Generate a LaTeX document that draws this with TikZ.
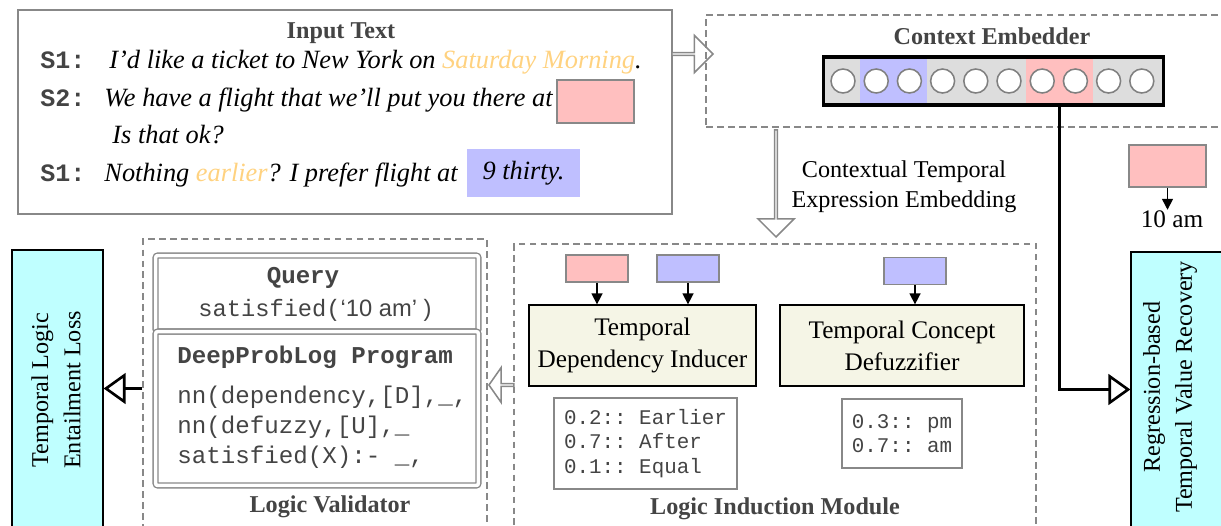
\documentclass[tikz,border=0pt]{standalone}
\usepackage{fontspec}
\setmainfont{Liberation Serif}
\setsansfont{Liberation Sans}
\setmonofont{Liberation Mono}
\usetikzlibrary{positioning, shapes.arrows, arrows.meta}

\definecolor{pinkq}{RGB}{255,191,191}
\definecolor{blueq}{RGB}{191,191,255}
\definecolor{orangew}{RGB}{255,210,128}
\definecolor{cyanbox}{RGB}{191,255,255}
\definecolor{beige}{RGB}{245,245,230}
\definecolor{embgray}{RGB}{221,221,221}
\definecolor{titlegray}{RGB}{68,68,68}
\definecolor{linegray}{RGB}{136,136,136}

\begin{document}
\begin{tikzpicture}[
      x=0.016cm, y=-0.016cm,
      frame/.style={rectangle, draw=linegray, line width=0.9pt, inner sep=0pt},
      dbox/.style={rectangle, draw=linegray, dash pattern=on 3pt off 2pt,
      line width=0.6pt, inner sep=0pt},
      ttl/.style={font=\fontsize{11}{13}\selectfont\bfseries, text=titlegray,
      inner sep=0pt},
      spk/.style={font=\fontsize{11.4}{13}\selectfont\ttfamily\bfseries,
      text=titlegray, anchor=base west, inner sep=0pt},
      utt/.style={font=\fontsize{12}{14}\selectfont\itshape, anchor=base west,
      inner sep=0pt},
      slot/.style={rectangle, draw=linegray, line width=0.7pt, inner sep=0pt,
      minimum width=0.992cm, minimum height=0.432cm},
      mod/.style={rectangle, draw, fill=beige, line width=0.6pt, align=center,
      font=\fontsize{11.5}{14.6}\selectfont, minimum height=1.296cm},
      prob/.style={rectangle, draw=linegray, line width=0.9pt, align=left,
      font=\fontsize{9.5}{11}\selectfont\ttfamily, text=titlegray},
      outbox/.style={rectangle, draw, fill=cyanbox, line width=0.6pt, inner sep=0pt},
      sidetxt/.style={rotate=90, align=center, font=\fontsize{11}{14.6}\selectfont},
      emb/.style={circle, draw=gray, fill=white, line width=0.7pt,
      minimum size=0.384cm, inner sep=0pt},
      hollow/.style={single arrow, draw=linegray, fill=white, line width=0.7pt,
      inner sep=0pt, single arrow head extend=0.152cm},
      prog/.style={font=\fontsize{11}{13}\selectfont\ttfamily, text=titlegray,
      anchor=base west, inner sep=0pt},
      dbl/.style={rectangle, draw=linegray, double=white, double distance=1.6pt,
      line width=0.6pt, rounded corners=1pt, inner sep=0pt, minimum width=5.168cm},
      dep/.style={-{Triangle[length=5pt,width=5pt]}, line width=0.7pt},
      bigarrow/.style={-{Triangle[open,length=10pt,width=14pt]}, line width=1.2pt}
    ]
    \useasboundingbox (0,0) rectangle (1221,525);
    \clip (0,0) rectangle (1221,525);

    % Input text
    \node[frame, minimum width=10.464cm, minimum height=3.264cm] (input) at (345,112) {};
    \node[ttl, anchor=base] (intitle) at (341,38) {Input Text};
    \node[spk] (s1a) at (40,68) {S1:};
    \node[utt] (u1) at (109,68)
    {I’d like a ticket to New York on \textcolor{orangew}{Saturday Morning}.};
    \node[spk] (s2) at (40,106) {S2:};
    \node[utt] (u2) at (104,106) {We have a flight that we’ll put you there at};
    \node[slot, fill=pinkq, minimum width=1.232cm, minimum height=0.688cm]
    (gap) at (595.5,101.5) {};
    \node[utt] (u2b) at (112,143) {Is that ok?};
    \node[spk] (s1b) at (40,181) {S1:};
    \node[utt] (u3) at (104,181)
    {Nothing \textcolor{orangew}{earlier}? I prefer flight at};
    \node[rectangle, fill=blueq, minimum width=1.808cm, minimum height=0.768cm,
    inner sep=0pt, font=\fontsize{12}{14}\selectfont\itshape] (nine) at (523.5,173) {9 thirty.};

    \node[hollow, minimum width=0.592cm, minimum height=0.656cm, anchor=tip]
    (inarrow) at (714,54) {};

    % Context embedder
    \node[dbox, minimum width=8.384cm, minimum height=1.792cm] (ctx) at (968,71) {};
    \node[ttl, anchor=base] (ctxtitle) at (992,44) {Context Embedder};
    \node[rectangle, fill=embgray, minimum width=5.456cm, minimum height=0.768cm,
    inner sep=0pt] (barbg) at (993.5,81) {};
    \node[rectangle, fill=blueq, minimum width=1.072cm, minimum height=0.72cm,
    inner sep=0pt] (embB) at (893.5,81) {};
    \node[rectangle, fill=pinkq, minimum width=1.072cm, minimum height=0.72cm,
    inner sep=0pt] (embP) at (1059.5,81) {};
    \foreach \i in {0,...,9}
      \node[emb] (c\i) at ({843+33.2*\i},81) {};
    \node[rectangle, draw, line width=1.4pt, minimum width=5.456cm,
    minimum height=0.768cm, inner sep=0pt] (bar) at (993.5,81) {};

    \node[hollow, minimum width=0.576cm, minimum height=1.712cm, rotate=-90,
    anchor=tip, single arrow head extend=0.16cm] (down) at (776,238) {};
    \node[align=center, font=\fontsize{11}{13.7}\selectfont] (ctelabel) at (904,187)
    {Contextual Temporal\\Expression Embedding};

    % Recovered value
    \node[slot, fill=pinkq, minimum width=1.232cm, minimum height=0.672cm]
    (val) at (1167.5,166) {};
    \node[font=\fontsize{11.5}{13}\selectfont, inner sep=0pt, anchor=base]
    (tenam) at (1172,227) {10 am};
    \draw[dep] (val.south) -- (val.south |- tenam.north);

    % Logic validator
    \node[dbox, minimum width=5.504cm, minimum height=4.816cm] (valid) at (315,389.5) {};
    \node[dbl, minimum height=1.216cm] (query) at (317,293.5) {};
    \node[dbl, minimum height=2.464cm] (program) at (317,408.5) {};
    \node[font=\fontsize{11}{13}\selectfont\ttfamily\bfseries, text=titlegray]
    (qtitle) at (303,278) {Query};
    \node[font=\fontsize{10.8}{12}\selectfont\ttfamily, text=titlegray]
    (qtext) at (315,310) {satisfied(\textsf{‘10 am’ )}};
    \node[prog, font=\fontsize{11}{13}\selectfont\ttfamily\bfseries]
    (ptitle) at (177,363) {DeepProbLog Program};
    \node[prog] (p1) at (177,403) {nn(dependency,[D],\_,};
    \node[prog] (p2) at (177,433) {nn(defuzzy,[U],\_};
    \node[prog] (p3) at (177,463) {satisfied(X):- \_,};
    \node[ttl, anchor=base] (vtitle) at (330,512) {Logic Validator};

    % Entailment loss
    \node[outbox, minimum width=1.456cm, minimum height=4.432cm] (loss) at (57.5,388.5) {};
    \node[sidetxt] (losstxt) at (56,390) {Temporal Logic\\Entailment Loss};
    \draw[bigarrow] (valid.west |- loss.east) -- (loss.east);

    % Logic induction
    \node[dbox, minimum width=8.352cm, minimum height=4.736cm] (induct) at (775,392) {};
    \node[hollow, minimum width=0.56cm, minimum height=0.4cm, rotate=180,
    anchor=tip, single arrow tip angle=110] (back) at (488,385) {};
    \node[slot, fill=pinkq] (d1) at (597,268.5) {};
    \node[slot, fill=blueq] (d2) at (688,268.5) {};
    \node[slot, fill=blueq] (d3) at (915,271) {};
    \node[mod, minimum width=3.632cm] (tdi) at (642.5,345.5)
    {Temporal\\Dependency Inducer};
    \node[mod, minimum width=3.904cm] (tcd) at (902,345.5)
    {Temporal Concept\\Defuzzifier};
    \draw[dep] (d1.south) -- (d1.south |- tdi.north);
    \draw[dep] (d2.south) -- (d2.south |- tdi.north);
    \draw[dep] (d3.south) -- (d3.south |- tcd.north);
    \node[prob, minimum width=2.928cm, minimum height=1.456cm] (pdep) at (645.5,443.5)
    {0.2:: Earlier\\0.7:: After\\0.1:: Equal};
    \node[prob, minimum width=1.92cm, minimum height=1.104cm] (pfuz) at (902,433.5)
    {0.3:: pm\\0.7:: am};
    \node[ttl, anchor=base] (ititle) at (775,514) {Logic Induction Module};

    % Value recovery
    \node[outbox, minimum width=1.744cm, minimum height=4.4cm] (reg) at (1185.5,389.5) {};
    \node[sidetxt] (regtxt) at (1170,387) {Regression-based\\Temporal Value Recovery};
    \draw[bigarrow] (embP.south) |- (reg.west);

  \end{tikzpicture}
\end{document}
